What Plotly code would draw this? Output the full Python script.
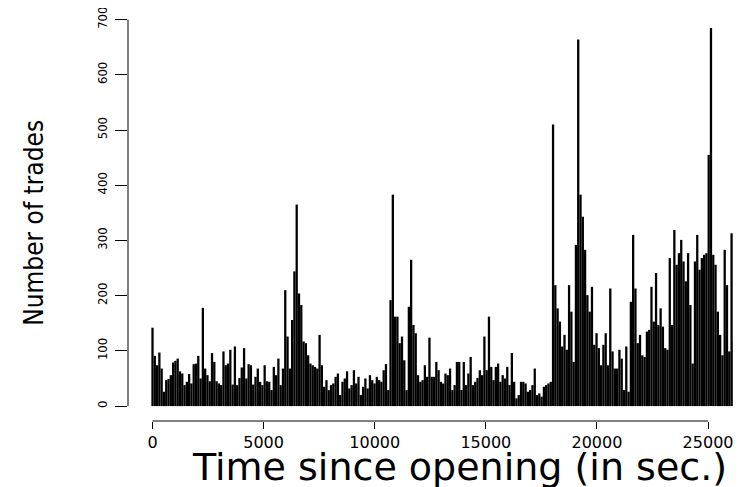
import plotly.graph_objects as go

# number of trades per interval (about 103 s each)
trades = [
    142, 91, 74, 97, 68, 26, 47, 49, 56, 79, 82, 86, 63, 59, 38, 44, 58, 41, 76, 77,
    91, 50, 178, 68, 56, 45, 96, 80, 45, 41, 38, 99, 74, 77, 102, 39, 108, 38, 51, 70,
    105, 50, 76, 74, 39, 53, 68, 44, 38, 74, 45, 44, 29, 71, 56, 86, 38, 68, 210, 126,
    68, 156, 244, 365, 204, 183, 117, 114, 92, 77, 74, 71, 68, 129, 74, 35, 47, 29, 38, 41,
    53, 59, 20, 44, 50, 63, 32, 38, 65, 41, 53, 20, 35, 50, 32, 56, 47, 41, 53, 47,
    44, 65, 76, 29, 192, 383, 162, 162, 114, 126, 83, 29, 180, 265, 147, 132, 56, 44, 47, 74,
    53, 124, 53, 53, 80, 65, 44, 41, 59, 56, 68, 29, 38, 80, 80, 29, 80, 38, 59, 89,
    38, 44, 51, 65, 56, 126, 65, 162, 71, 47, 71, 77, 44, 56, 50, 71, 38, 96, 44, 14,
    20, 44, 44, 41, 26, 29, 38, 68, 20, 23, 17, 35, 38, 41, 44, 510, 219, 177, 153, 108,
    129, 102, 219, 171, 80, 292, 664, 383, 343, 283, 201, 171, 216, 111, 132, 105, 74, 111, 132, 74,
    213, 99, 68, 68, 102, 86, 29, 108, 26, 189, 310, 213, 114, 129, 92, 89, 135, 138, 216, 153,
    241, 147, 177, 144, 105, 102, 268, 147, 319, 256, 277, 301, 262, 226, 277, 183, 77, 262, 310, 247,
    268, 274, 277, 455, 685, 274, 256, 171, 129, 92, 283, 219, 99, 313, 117, 138, 129,
]
step = 103
seconds = list(range(0, step * len(trades), step))

x_ticks = [0, 5000, 10000, 15000, 20000, 25000]
x_labels = ["0", "5000", "10000", "15000", "20000", "25000"]
y_ticks = [0, 100, 200, 300, 400, 500, 600, 700]
y_labels = ["0", "100", "200", "300", "400", "500", "600", "700"]

narrow = "Liberation Sans Narrow, DejaVu Sans Condensed, Liberation Sans, sans-serif"
wide = "DejaVu Sans, Liberation Sans, sans-serif"

fig = go.Figure(go.Bar(x=seconds, y=trades, width=step,
                       marker=dict(color="black", line=dict(width=0))))

# the page body has an 8px margin, so the figure is 8px smaller than the window
fig.update_layout(
    width=733, height=479,
    margin=dict(l=120, r=0, t=5, b=66),
    plot_bgcolor="white", paper_bgcolor="white",
    showlegend=False,
    xaxis=dict(range=[-1103, 26483], tickvals=x_ticks, ticktext=x_labels,
               ticks="outside", ticklen=7, tickcolor="black", automargin=False,
               showgrid=False, zeroline=False, showline=False,
               ticklabeloverflow="allow",
               tickfont=dict(family=wide, size=16, color="black"), ticklabelstandoff=0),
    yaxis=dict(range=[-27, 712], tickvals=y_ticks, ticktext=y_labels,
               ticks="outside", ticklen=12, tickcolor="black", automargin=False,
               showgrid=False, zeroline=False, showline=False,
               ticklabeloverflow="allow",
               tickangle=-90, tickfont=dict(family=narrow, size=13, color="black"),
               ticklabelstandoff=3),
)

# R-style axis lines that stop at the first and last tick
fig.add_shape(type="line", xref="x", yref="paper", x0=0, x1=25000, y0=0, y1=0,
              line=dict(color="black", width=1))
fig.add_shape(type="line", xref="paper", yref="y", x0=0, x1=0, y0=0, y1=700,
              line=dict(color="black", width=1))

fig.add_annotation(text="Time since opening (in sec.)", xref="x", yref="paper",
                   x=13800, y=0, xanchor="center", yanchor="middle", yshift=-46,
                   showarrow=False, font=dict(family=wide, size=38, color="black"))
fig.add_annotation(text="Number of trades", xref="paper", yref="y",
                   x=0, y=332, xanchor="center", yanchor="middle", xshift=-94,
                   textangle=-90, showarrow=False,
                   font=dict(family=narrow, size=26, color="black"))

fig.write_html("out.html")
